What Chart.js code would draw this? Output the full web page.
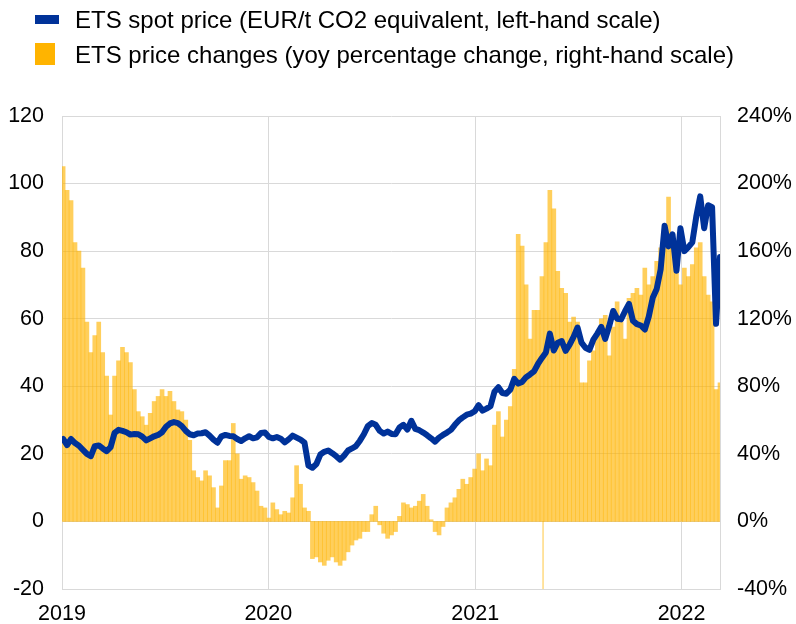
<!DOCTYPE html>
<html>
<head>
<meta charset="utf-8">
<script src="https://cdn.jsdelivr.net/npm/chart.js@4.4.1/dist/chart.umd.min.js"></script>
<style>
  body { margin: 0; background: #fff; }
  #wrap { position: relative; width: 796px; height: 624px; font-family: "Liberation Sans", Arial, sans-serif; }
  #chart { position: absolute; left: 0; top: 0; }
  .legend-text { position: absolute; left: 75px; font-size: 24px; line-height: 35px; color: #000; white-space: nowrap; }
  .swatch { position: absolute; }
</style>
</head>
<body>
<div id="wrap">
  <canvas id="chart" width="796" height="624"></canvas>
  <div class="swatch" style="left:35px;top:15px;width:24px;height:9px;background:#003299"></div>
  <div class="legend-text" style="top:1.5px">ETS spot price (EUR/t CO2 equivalent, left-hand scale)</div>
  <div class="swatch" style="left:35px;top:43px;width:20px;height:22px;background:#FFB400"></div>
  <div class="legend-text" style="top:36.5px">ETS price changes (yoy percentage change, right-hand scale)</div>
</div>
<script>
// weekly observations, x = days since 1 Jan 2019 (first one on 3 Jan 2019)
const firstDay = 2
const stepDays = 7

// EUR/t CO2, left-hand scale
const spotPrice = [
  24.4, 22.6, 24.4, 23.2, 22.4, 21.2, 20.0, 19.3, 22.3, 22.5,
  21.6, 20.8, 22.0, 26.2, 27.1, 26.8, 26.4, 25.7, 25.9, 25.8,
  25.1, 24.0, 24.6, 25.2, 25.6, 26.4, 28.0, 29.0, 29.4, 29.1,
  28.2, 26.8, 25.8, 25.5, 26.0, 26.1, 26.4, 25.4, 24.2, 23.3,
  25.2, 25.6, 25.3, 25.2, 24.4, 23.8, 24.6, 25.2, 24.6, 24.9,
  26.2, 26.3, 25.0, 24.6, 25.0, 24.5, 23.4, 24.3, 25.4, 24.8,
  24.2, 23.3, 16.5, 15.9, 17.0, 19.8, 20.6, 21.0, 20.2, 19.3,
  18.3, 19.5, 21.0, 21.6, 22.3, 23.9, 25.8, 28.2, 29.1, 28.6,
  26.8, 26.0, 26.6, 25.9, 25.8, 27.8, 28.6, 27.2, 29.8, 27.4,
  27.0, 26.3, 25.5, 24.6, 23.6, 24.8, 25.6, 26.3, 27.1, 28.6,
  29.9, 30.8, 31.6, 31.9, 32.6, 34.4, 32.8, 33.4, 34.1, 38.4,
  39.7, 38.0, 37.8, 39.0, 42.2, 40.8, 41.3, 42.7, 43.5, 44.4,
  46.6, 48.4, 50.0, 55.6, 50.6, 52.9, 53.4, 50.5, 52.3, 54.6,
  57.4, 52.9, 51.4, 50.8, 53.8, 55.6, 57.6, 54.0, 57.8, 62.3,
  60.0, 59.8, 62.2, 64.4, 59.4, 58.4, 58.0, 56.8, 60.6, 66.2,
  68.8, 74.6, 87.5, 81.4, 85.0, 74.2, 86.8, 80.0, 81.2, 82.6,
  90.2, 96.2, 86.8, 93.6, 93.0, 58.5, 78.3
]

// yoy % change, right-hand scale
const priceChange = [
  210, 196, 190, 165, 160, 150, 118, 100, 110, 118,
  100, 86, 63, 86, 95, 103, 100, 94, 78, 65,
  62, 57, 64, 71, 74, 78, 74, 77, 71, 66,
  65, 60, 48, 30, 26, 24, 30, 27, 20, 8,
  21, 36, 36, 58, 40, 25, 27, 26, 23, 18,
  9, 8, 2, 11, 7, 4, 6, 5, 14, 33,
  22, 8, 6, -22, -21, -24, -26, -23, -21, -24,
  -26, -23, -18, -14, -11, -10, -6, -6, 4, 9,
  -2, -7, -10, -8, -6, 3, 11, 10, 8, 9,
  12, 16, 9, 1, -6, -8, -3, 8, 11, 14,
  19, 25, 22, 26, 31, 40, 30, 37, 33, 57,
  65, 50, 60, 68, 90, 170, 163, 140, 108, 125,
  125, 145, 165, 196, 185, 148, 138, 135, 118, 121,
  118, 82, 82, 95, 101, 110, 120, 122, 98, 115,
  130, 118, 108, 132, 135, 138, 134, 150, 140, 145,
  154, 162, 172, 192, 168, 148, 140, 150, 145, 152,
  162, 165, 145, 134, 130, 78, 82
]

// single-day outlier in the change series
const outlierDay = [851]
const outlierChange = [-40]

const yearTicks = [0, 365, 731, 1096]
const yearLabels = ['2019', '2020', '2021', '2022']

const weekDays = spotPrice.map((_, i) => firstDay + stepDays * i)

const gridColor = '#d9d9d9'
const tickFont = { family: '"Liberation Sans", Arial, sans-serif', size: 21.5 }

new Chart(document.getElementById('chart'), {
  type: 'bar',
  data: {
    datasets: [
      {
        type: 'line',
        label: 'ETS spot price',
        data: weekDays.map((d, i) => ({ x: d, y: spotPrice[i] })),
        yAxisID: 'y',
        borderColor: '#003299',
        borderWidth: 6,
        borderJoinStyle: 'round',
        borderCapStyle: 'round',
        pointRadius: 0,
        tension: 0,
        order: 0
      },
      {
        type: 'bar',
        label: 'ETS price changes',
        data: weekDays.map((d, i) => ({ x: d, y: priceChange[i] })),
        yAxisID: 'y1',
        backgroundColor: 'rgba(255, 180, 0, 0.64)',
        barThickness: 4,
        grouped: false,
        order: 2
      },
      {
        type: 'bar',
        label: 'outlier',
        data: outlierDay.map((d, i) => ({ x: d, y: outlierChange[i] })),
        yAxisID: 'y1',
        backgroundColor: 'rgba(255, 180, 0, 0.45)',
        barThickness: 1,
        grouped: false,
        order: 3
      }
    ]
  },
  options: {
    responsive: false,
    animation: false,
    devicePixelRatio: 1,
    layout: { padding: { top: 116, left: 0, right: 0, bottom: 0 } },
    plugins: {
      legend: { display: false },
      tooltip: { enabled: false }
    },
    scales: {
      x: {
        type: 'linear',
        min: 0,
        max: 1164,
        offset: false,
        grid: { color: gridColor, offset: false, drawTicks: false },
        border: { color: gridColor },
        afterBuildTicks: (scale) => {
          scale.ticks = yearTicks.map(v => ({ value: v }))
        },
        afterFit: (scale) => { scale.height = 35 },
        ticks: {
          autoSkip: false,
          maxRotation: 0,
          padding: 12,
          color: '#000',
          font: tickFont,
          callback: (value, index) => yearLabels[index]
        }
      },
      y: {
        position: 'left',
        min: -20,
        max: 120,
        grid: { color: gridColor, drawTicks: false },
        border: { color: gridColor },
        afterFit: (scale) => { scale.width = 62 },
        ticks: { stepSize: 20, padding: 18, color: '#000', font: tickFont }
      },
      y1: {
        position: 'right',
        min: -40,
        max: 240,
        grid: { display: false, drawTicks: false },
        border: { color: gridColor },
        afterFit: (scale) => { scale.width = 76 },
        ticks: {
          stepSize: 40,
          padding: 17,
          color: '#000',
          font: tickFont,
          callback: (value) => value + '%'
        }
      }
    }
  }
})
</script>
</body>
</html>
